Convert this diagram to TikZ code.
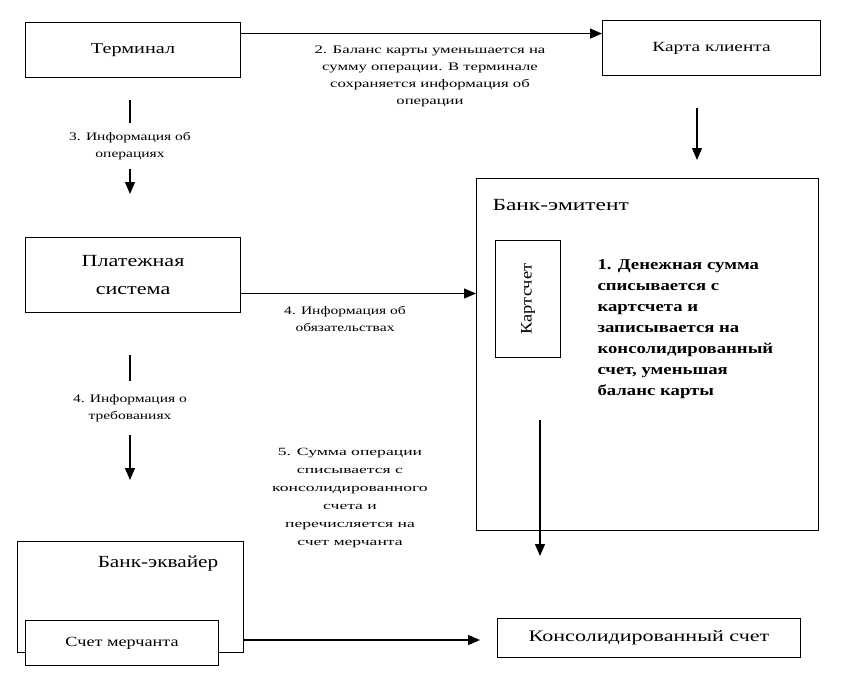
\documentclass[tikz,border=0pt]{standalone}
\usepackage{fontspec}
\usepackage{graphicx}
\setmainfont{Liberation Serif}
\usetikzlibrary{arrows.meta,positioning}
\newcommand{\wc}[2][1.35]{\scalebox{#1}[1]{\begin{tabular}{@{}c@{}}#2\end{tabular}}}
\newcommand{\wl}[2][1.25]{\scalebox{#1}[1]{\begin{tabular}{@{}l@{}}#2\end{tabular}}}
\begin{document}
\begin{tikzpicture}[x=1pt,y=-1pt,
  box/.style={draw,line width=1.1pt,inner sep=0pt,anchor=north west},
  arr/.style={line width=1.1pt,-{Triangle[width=10pt,length=12pt]}},
  lbl/.style={font=\fontsize{11.5}{17}\selectfont,fill=white,inner sep=1pt},
]
\useasboundingbox (0,0) rectangle (852,686);
% boxes
\node[box,minimum width=215pt,minimum height=55pt,font=\fontsize{15}{18}\selectfont] (term) at (25,22) {\wc{Терминал}};
\node[box,minimum width=218pt,minimum height=55pt,font=\fontsize{14}{18}\selectfont] (karta) at (602,20) {\wc[1.38]{Карта клиента}};
\node[box,minimum width=215pt,minimum height=75pt,font=\fontsize{17}{28}\selectfont] (plat) at (25,237) {\wc[1.3]{Платежная\\система}};
\node[box,minimum width=342pt,minimum height=352pt] (emit) at (476,178) {};
\node[anchor=west,font=\fontsize{17}{20}\selectfont] (emittitle) at (489,206) {\wc[1.38]{Банк-эмитент}};
\node[box,minimum width=65pt,minimum height=117pt] (kartschet) at (495,240) {};
\node[rotate=90,font=\fontsize{16}{18}\selectfont] (kartschettext) at (kartschet.center) {\wc[1.15]{Картсчет}};
\node[anchor=north west,font=\bfseries\fontsize{15}{21}\selectfont] (step1) at (594,251) {\wl{1. Денежная сумма\\списывается с\\картсчета и\\записывается на\\консолидированный\\счет, уменьшая\\баланс карты}};
\node[box,minimum width=226pt,minimum height=111pt] (ekv) at (17,541) {};
\node[font=\fontsize{17}{20}\selectfont] (ekvtitle) at (158,563) {\wc[1.25]{Банк-эквайер}};
\node[box,minimum width=193pt,minimum height=45pt,fill=white,font=\fontsize{14}{18}\selectfont] (merch) at (25,620) {\wc[1.3]{Счет мерчанта}};
\node[box,minimum width=303pt,minimum height=39pt,font=\fontsize{16}{18}\selectfont] (kons) at (497,618) {\wc[1.38]{Консолидированный счет}};
% connectors
\draw[arr] ([yshift=16.5pt]term.east) coordinate (t1) -- (t1 -| karta.west);
\node[lbl] (l2) at (430,76) {\wc[1.45]{2. Баланс карты уменьшается на\\сумму операции. В терминале\\сохраняется информация об\\операции}};
\coordinate (k1) at (697,108);
\coordinate (k2) at (697,160);
\draw[arr] (k1) -- (k2);
\coordinate (a3s) at (130,100);
\coordinate (a3e) at (130,194);
\draw[arr] (a3s) -- (a3e);
\node[lbl,inner ysep=6pt] (l3) at (130,146) {\wc{3. Информация об\\операциях}};
\draw[arr] ([yshift=-0.5pt]plat.east |- 0,293) coordinate (p1) -- (p1 -| emit.west);
\node[lbl] (l4a) at (345,320) {\wc{4. Информация об\\обязательствах}};
\coordinate (a4s) at (130,355);
\coordinate (a4e) at (130,480);
\draw[arr] (a4s) -- (a4e);
\node[lbl,inner ysep=10pt] (l4b) at (130,408) {\wc{4. Информация о\\требованиях}};
\node[lbl,font=\fontsize{11}{18}\selectfont] (l5) at (350,497) {\wc[1.6]{5. Сумма операции\\списывается с\\консолидированного\\счета и\\перечисляется на\\счет мерчанта}};
\coordinate (c1) at (540,420);
\coordinate (c2) at (540,556);
\draw[arr] (c1) -- (c2);
\draw[arr] (ekv.east |- 0,640) coordinate (m1) -- ([xshift=-17pt]m1 -| kons.west);
\end{tikzpicture}
\end{document}
